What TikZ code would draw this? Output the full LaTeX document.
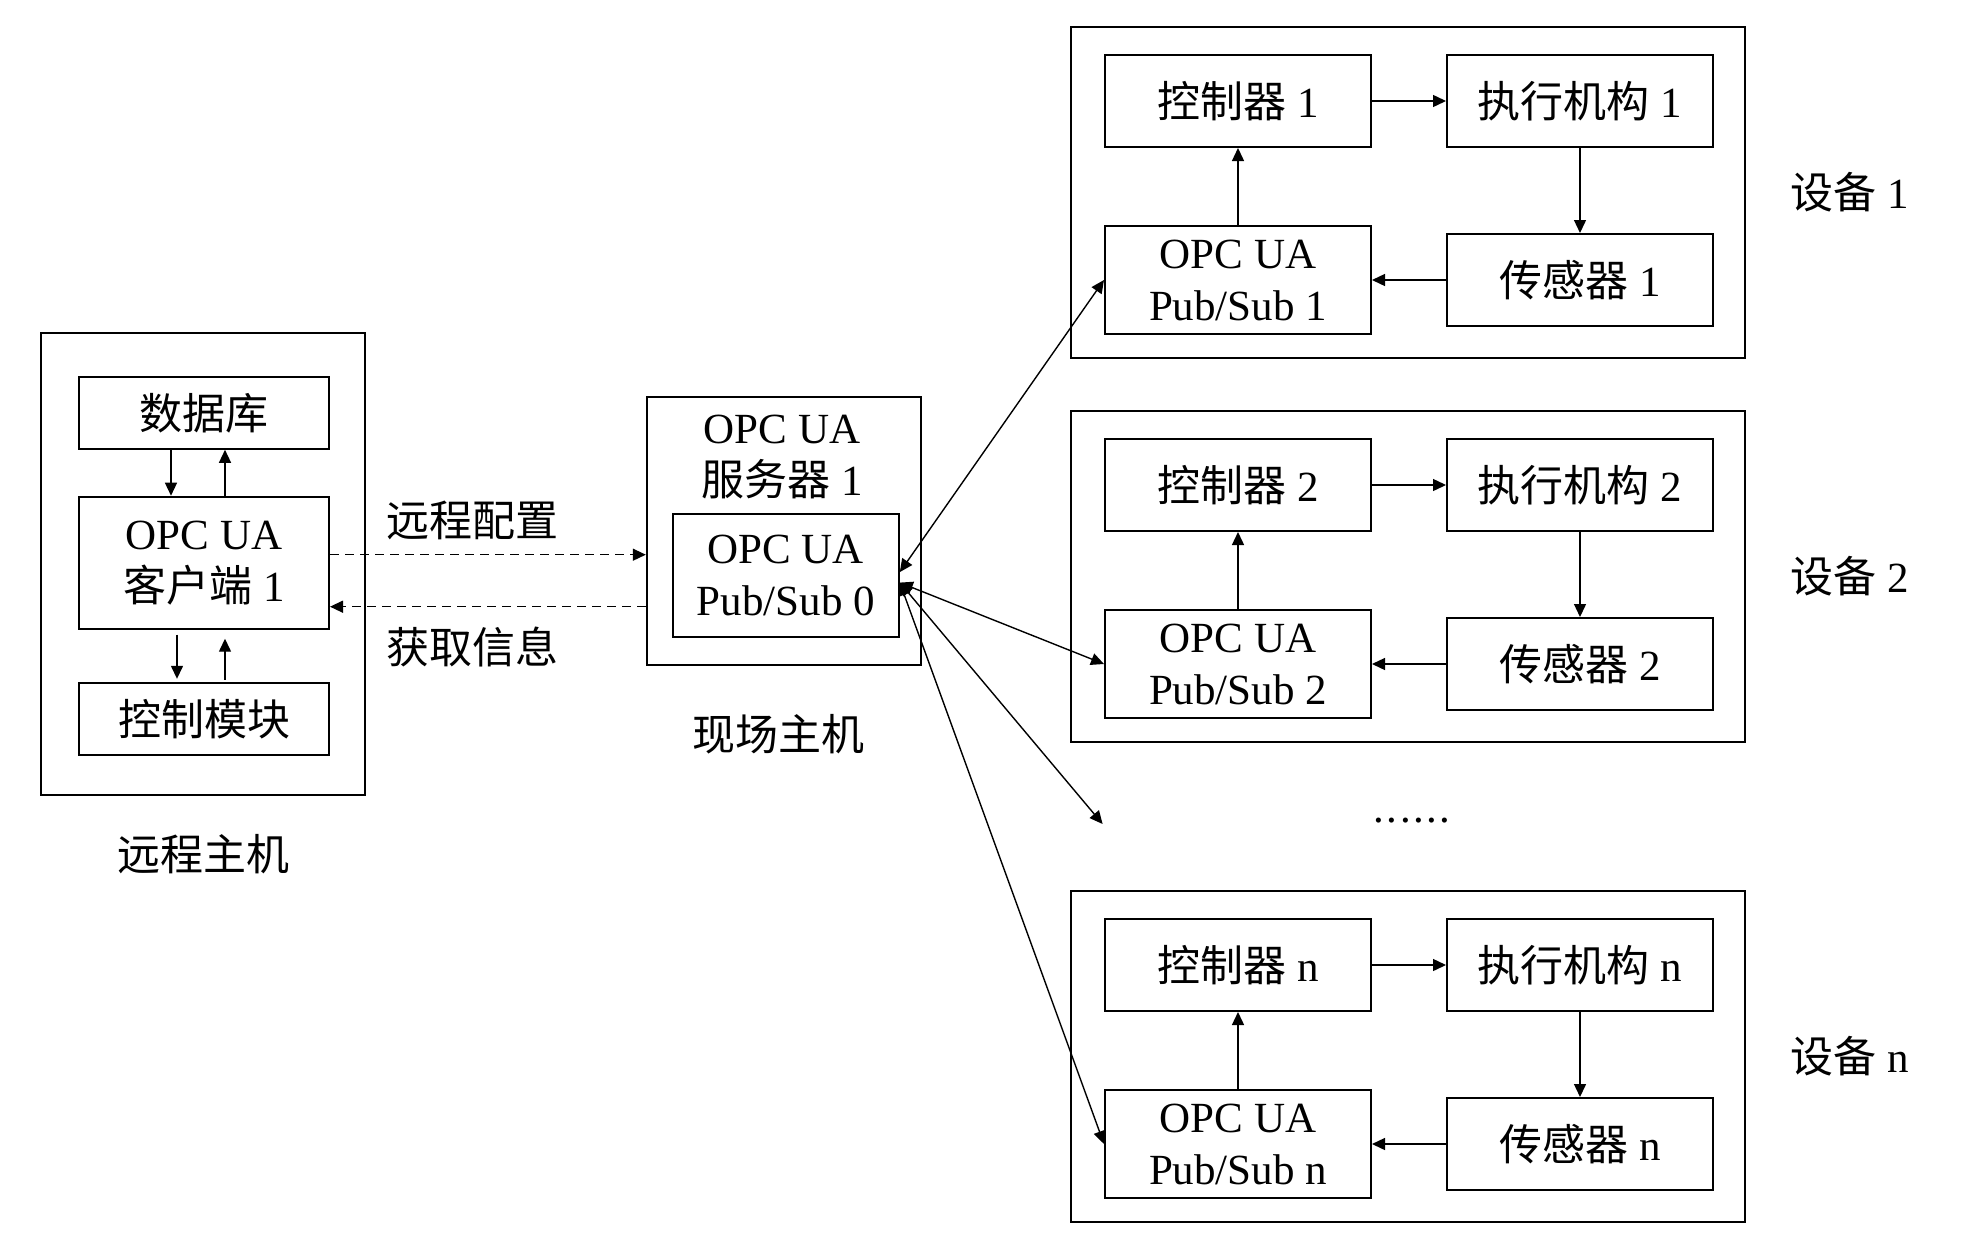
\documentclass[tikz,border=0pt]{standalone}
\usepackage{fontspec}
\setmainfont{Liberation Serif}
\newfontfamily\cjk{Noto Sans CJK SC}
\newcommand\zh[1]{{\cjk #1}}
\usetikzlibrary{arrows.meta}
\begin{document}
\begin{tikzpicture}[x=1pt,y=-1pt,
  box/.style={draw, line width=2pt, inner sep=0pt, align=center, font=\fontsize{43}{52}\selectfont},
  frame/.style={draw, line width=2pt, inner sep=0pt},
  lbl/.style={inner sep=0pt, align=center, font=\fontsize{43}{52}\selectfont},
  arr/.style={line width=1.4pt, -{Triangle[length=13pt,width=12pt]}},
  darr/.style={arr, dash pattern=on 9pt off 6pt},
  biarr/.style={line width=1.4pt, {Triangle[length=13pt,width=12pt]}-{Triangle[length=13pt,width=12pt]}}]
\useasboundingbox (0,0) rectangle (1964,1250);

% remote host
\node[frame, minimum width=324pt, minimum height=462pt] (R) at (203,563.5) {};
\node[box, minimum width=250pt, minimum height=72pt] (db) at (204,412.8) {\zh{数据库}};
\node[box, minimum width=250pt, minimum height=132pt] (cl) at (204,562.7) {OPC UA\\\zh{客户端} 1};
\node[box, minimum width=250pt, minimum height=72pt] (cm) at (204,718.8) {\zh{控制模块}};
\node[lbl] (Rl) at (203,854.5) {\zh{远程主机}};

\draw[arr] ([xshift=-33pt]db.south) -- ([xshift=-33pt]cl.north);
\draw[arr] ([xshift=21pt]cl.north) -- ([xshift=21pt]db.south);
\draw[arr] ([xshift=-27pt,yshift=-5pt]cl.south) -- ([xshift=-27pt,yshift=3pt]cm.north);
\draw[arr] ([xshift=21pt,yshift=2pt]cm.north) -- ([xshift=21pt,yshift=-9pt]cl.south);

% field host
\node[frame, minimum width=274pt, minimum height=268pt] (F) at (783.8,530.7) {};
\node[lbl] (Ft) at (782,457) {OPC UA\\\zh{服务器} 1};
\node[box, minimum width=226pt, minimum height=123pt] (p0) at (785.8,575.6) {OPC UA\\Pub/Sub 0};
\node[lbl] (Fl) at (778,734.3) {\zh{现场主机}};

\draw[darr] ([yshift=8pt]cl.east) -- ([yshift=8pt]cl.east -| F.west);
\draw[darr] ([yshift=-44pt]cl.east -| F.west) -- ([yshift=-44pt]cl.east);
\node[lbl] (t1) at (472,520) {\zh{远程配置}};
\node[lbl] (t2) at (472,647.5) {\zh{获取信息}};

% devices
\foreach \k/\dy in {1/0, 2/384, n/864}{
  \node[frame, minimum width=674pt, minimum height=331pt] (D\k) at (1408,{192.8+\dy}) {};
  \node[box, minimum width=266pt, minimum height=92pt] (c\k) at (1238,{101+\dy}) {\zh{控制器} \k};
  \node[box, minimum width=266pt, minimum height=92pt] (a\k) at (1580,{101+\dy}) {\zh{执行机构} \k};
  \node[box, minimum width=266pt, minimum height=108pt] (p\k) at (1238,{280+\dy}) {OPC UA\\Pub/Sub \k};
  \node[box, minimum width=266pt, minimum height=92pt] (s\k) at (1580,{280+\dy}) {\zh{传感器} \k};
  \node[lbl] (L\k) at (1850,{192.5+\dy}) {\zh{设备} \k};
  \draw[arr] (c\k.east) -- (a\k.west);
  \draw[arr] (a\k.south) -- (s\k.north);
  \draw[arr] (s\k.west) -- (p\k.east);
  \draw[arr] (p\k.north) -- (c\k.south);
}

\node[lbl, anchor=base] (dots) at (1412,822) {.\kern2.5pt.\kern2.5pt.\kern2.5pt.\kern2.5pt.\kern2.5pt.};
\coordinate (dt) at (1102.6,824);

\draw[biarr] ([yshift=3.5pt]p0.east) -- (p1.west);
\draw[biarr] ([yshift=-7pt]p0.east) -- (p2.west);
\draw[biarr] ([yshift=-7pt]p0.east) -- (dt);
\draw[biarr] ([yshift=-7pt]p0.east) -- (pn.west);
\end{tikzpicture}
\end{document}
